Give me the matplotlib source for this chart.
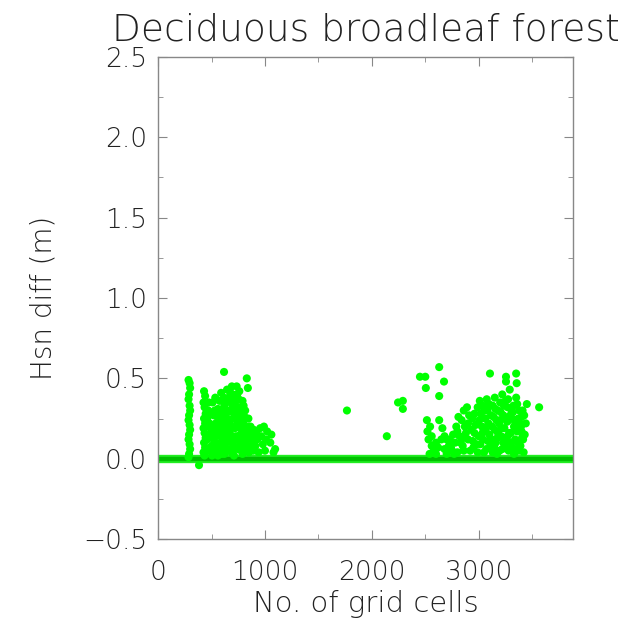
import matplotlib
matplotlib.use("Agg")
import matplotlib.pyplot as plt
from matplotlib.ticker import MultipleLocator

# ---- data ----
title = "Deciduous broadleaf forest"
xlabel = "No. of grid cells"
ylabel = "Hsn diff (m)"
x_range = [0, 3880]
y_range = [-0.5, 2.5]

# cells with zero difference (form the thick line)
zero_x = [0, 3880]
zero_y = [0.0, 0.0]

# left cluster: two vertical columns
col_a_x = [285, 295, 300, 290, 285, 295, 300, 290, 285, 295, 300, 290, 285, 295, 300, 290, 285]
col_a_y = [0.49, 0.47, 0.44, 0.40, 0.37, 0.33, 0.30, 0.27, 0.24, 0.21, 0.18, 0.15, 0.12, 0.09, 0.06, 0.03, 0.01]
col_b_x = [430, 440, 425, 435, 445, 430, 440, 425, 435, 445, 430, 440, 425, 435, 383]
col_b_y = [0.42, 0.39, 0.35, 0.32, 0.28, 0.25, 0.22, 0.19, 0.16, 0.13, 0.10, 0.07, 0.04, 0.02, -0.04]

left_x = [470, 480, 490, 500, 510, 520, 530, 540, 550, 560, 570, 580, 590, 600, 610, 617, 620, 630, 640,
          650, 660, 670, 680, 690, 700, 700, 710, 720, 730, 740, 750, 760, 770, 780, 790, 800, 810, 820,
          830, 840, 850, 860, 870, 880, 900, 920, 925, 955, 980, 1020, 1050, 1095,
          480, 520, 560, 600, 620, 640, 660, 680, 700, 720, 740, 760, 790, 810, 830, 580, 640, 670, 720,
          750, 600, 540, 500, 460, 450, 470, 560, 620, 690, 770, 850, 890, 940, 1000, 710, 650, 530, 780,
          730, 610, 590, 660, 700, 750, 800, 760, 680, 735, 790,
          460, 475, 495, 505, 515, 525, 535, 545, 555, 565, 575, 585, 595, 605, 615, 625, 635, 645, 655,
          665, 675, 685, 695, 705, 715, 725, 735, 745, 755, 765, 775, 785, 795, 805, 815, 825, 835, 845,
          865, 875, 895, 910, 935, 965, 990, 1010, 1060, 1080]
left_y = [0.30, 0.22, 0.15, 0.08, 0.35, 0.27, 0.18, 0.10, 0.04, 0.31, 0.24, 0.14, 0.41, 0.20, 0.06, 0.54, 0.33, 0.28, 0.12,
          0.22, 0.38, 0.17, 0.30, 0.45, 0.25, 0.09, 0.35, 0.19, 0.28, 0.40, 0.13, 0.32, 0.22, 0.05, 0.36, 0.16, 0.26, 0.10,
          0.50, 0.44, 0.20, 0.14, 0.08, 0.18, 0.12, 0.16, 0.12, 0.19, 0.09, 0.17, 0.10, 0.06,
          0.05, 0.12, 0.02, 0.11, 0.16, 0.25, 0.06, 0.13, 0.33, 0.07, 0.21, 0.11, 0.03, 0.07, 0.13, 0.28, 0.35, 0.42, 0.38,
          0.30, 0.30, 0.22, 0.18, 0.12, 0.05, 0.20, 0.15, 0.03, 0.20, 0.15, 0.04, 0.05, 0.04, 0.05, 0.02, 0.15, 0.30, 0.27,
          0.14, 0.23, 0.08, 0.30, 0.40, 0.20, 0.33, 0.42, 0.36, 0.45, 0.24,
          0.25, 0.35, 0.28, 0.02, 0.20, 0.05, 0.38, 0.15, 0.26, 0.08, 0.36, 0.19, 0.03, 0.27, 0.38, 0.09, 0.20, 0.43, 0.29,
          0.11, 0.24, 0.04, 0.14, 0.29, 0.12, 0.33, 0.24, 0.06, 0.37, 0.26, 0.09, 0.18, 0.12, 0.21, 0.30, 0.17, 0.05, 0.25,
          0.20, 0.12, 0.18, 0.08, 0.13, 0.14, 0.20, 0.12, 0.15, 0.04]

mid_x = [1767]
mid_y = [0.30]

right_x = [2140, 2245, 2290, 2290, 2450, 2500, 2505, 2630, 2675, 2630, 2630, 2515, 2545, 2520, 2530, 2560, 2600,
           2650, 2580, 2620, 2680, 2700, 2720, 2750, 2780, 2800, 2820, 2850, 2870, 2890, 2900, 2920, 2940, 2960,
           2980, 3010, 3020, 3030, 3040, 3050, 3075, 3080, 3090, 3100, 3105, 3110, 3130, 3140, 3150, 3160, 3170,
           3180, 3190, 3200, 3210, 3220, 3230, 3240, 3255, 3255, 3260, 3270, 3280, 3290, 3300, 3310, 3320, 3330,
           3350, 3355, 3340, 3360, 3370, 3385, 3390, 3400, 3415, 3420, 3450, 3565, 3380, 3350, 3300, 3220, 3150,
           2860, 2840, 2900, 2990, 3060, 3120, 3230, 3280, 3330, 2760, 2790, 2810, 2950, 3000, 3070, 3180, 3250,
           3310, 3360, 3400, 3410, 2730, 2860, 2960, 3040, 3130, 3200, 3270, 3440, 3430,
           2700, 2740, 2770, 2800, 2830, 2860, 2880, 2910, 2930, 2945, 2970, 2990, 3005, 3015, 3035, 3055, 3065,
           3085, 3095, 3115, 3125, 3145, 3155, 3165, 3175, 3195, 3205, 3215, 3235, 3245, 3265, 3275, 3285, 3295,
           3305, 3325, 3335, 3345, 3365, 3375, 3395, 3405, 3425, 2680, 2660, 2600, 2560, 2540]
right_y = [0.14, 0.35, 0.36, 0.31, 0.51, 0.51, 0.44, 0.57, 0.48, 0.39, 0.24, 0.24, 0.20, 0.17, 0.12, 0.08, 0.10,
           0.12, 0.05, 0.07, 0.06, 0.03, 0.08, 0.05, 0.10, 0.04, 0.14, 0.08, 0.20, 0.32, 0.12, 0.05, 0.25, 0.16,
           0.09, 0.36, 0.28, 0.20, 0.12, 0.04, 0.37, 0.30, 0.22, 0.15, 0.53, 0.08, 0.33, 0.26, 0.18, 0.10, 0.03,
           0.30, 0.22, 0.35, 0.14, 0.06, 0.27, 0.19, 0.51, 0.48, 0.11, 0.32, 0.24, 0.43, 0.16, 0.07, 0.29, 0.20,
           0.53, 0.47, 0.12, 0.34, 0.25, 0.22, 0.08, 0.17, 0.12, 0.04, 0.34, 0.32, 0.30, 0.38, 0.31, 0.40, 0.38,
           0.30, 0.24, 0.22, 0.32, 0.25, 0.12, 0.10, 0.05, 0.03, 0.15, 0.20, 0.26, 0.07, 0.14, 0.06, 0.16, 0.36,
           0.25, 0.17, 0.26, 0.30, 0.12, 0.13, 0.28, 0.33, 0.04, 0.24, 0.14, 0.22, 0.15,
           0.12, 0.07, 0.03, 0.17, 0.10, 0.05, 0.16, 0.27, 0.18, 0.11, 0.21, 0.04, 0.24, 0.09, 0.16, 0.30, 0.18,
           0.11, 0.34, 0.27, 0.20, 0.07, 0.31, 0.24, 0.13, 0.05, 0.29, 0.19, 0.33, 0.08, 0.23, 0.37, 0.16, 0.27,
           0.10, 0.33, 0.06, 0.22, 0.10, 0.05, 0.20, 0.13, 0.27, 0.14, 0.19, 0.03, 0.14, 0.03]

# ---- figure ----
fig = plt.figure(figsize=(6.4, 6.32), dpi=100)
ax = fig.add_axes([0.247, 0.147, 0.648, 0.763])

green = "#00ff00"
ax.plot(zero_x, zero_y, color="#22ee22", lw=6.0, solid_capstyle="butt", zorder=2)
ax.plot(zero_x, zero_y, color="#00c000", lw=3.2, solid_capstyle="butt", zorder=2)
for xs, ys in [(col_a_x, col_a_y), (col_b_x, col_b_y), (left_x, left_y), (mid_x, mid_y), (right_x, right_y)]:
    ax.scatter(xs, ys, s=34, color=green, edgecolors="none", zorder=3)

ax.set_xlim(x_range)
ax.set_ylim(y_range)
ax.xaxis.set_major_locator(MultipleLocator(1000))
ax.xaxis.set_minor_locator(MultipleLocator(500))
ax.yaxis.set_major_locator(MultipleLocator(0.5))
ax.yaxis.set_minor_locator(MultipleLocator(0.25))
ax.yaxis.set_major_formatter(plt.FuncFormatter(lambda v, p: f"{v:.1f}".replace("-", "\u2212")))

spine_col = "#888888"
for s in ax.spines.values():
    s.set_color(spine_col)
    s.set_linewidth(1.0)
ax.tick_params(which="both", direction="in", top=True, right=True, colors=spine_col,
               labelcolor="#222222", labelsize=19)
ax.tick_params(axis="x", which="major", length=6.5, pad=15)
ax.tick_params(axis="x", which="minor", length=3.6)
ax.tick_params(axis="y", which="major", length=6.5, pad=8)
ax.tick_params(axis="y", which="minor", length=3.6)
for lbl in ax.get_xticklabels() + ax.get_yticklabels():
    lbl.set_fontweight("light")

ax.set_title(title, fontsize=27, color="#222222", pad=12, fontweight="light")
ax.set_xlabel(xlabel, fontsize=21, color="#222222", labelpad=4, fontweight="light")
ax.set_ylabel(ylabel, fontsize=20, color="#222222", labelpad=18, fontweight="light")

fig.savefig("out.png", dpi=100)
